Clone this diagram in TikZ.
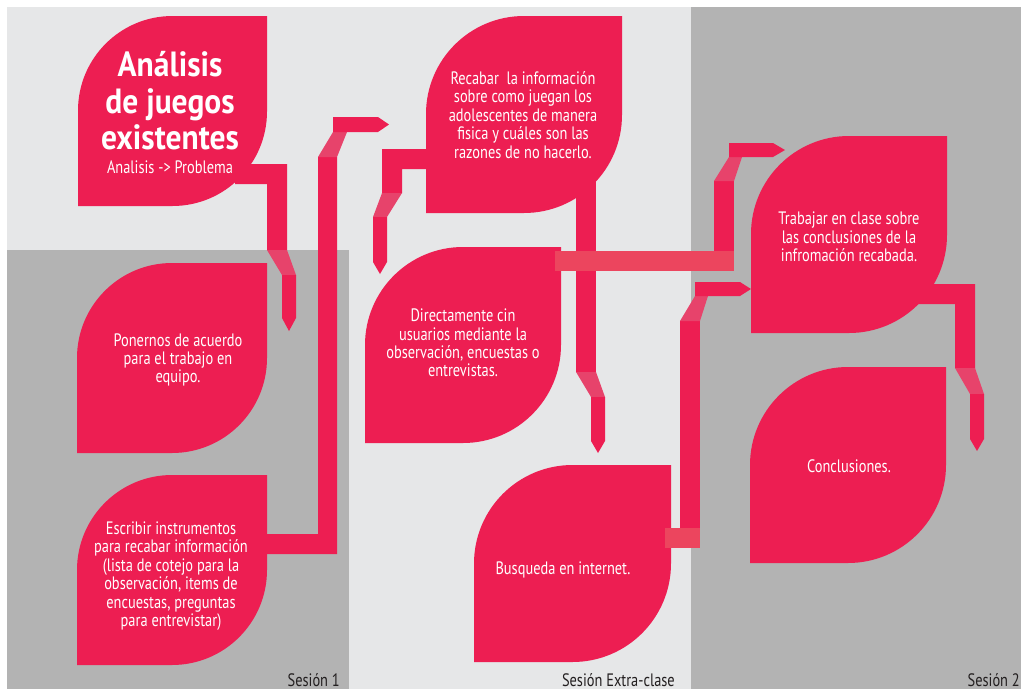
\documentclass[tikz,border=0pt]{standalone}
\usepackage{fontspec}
\setmainfont{PT Sans}
\newfontfamily\leaffont[FakeStretch=0.8]{PT Sans}
\newfontfamily\headfont[FakeStretch=0.9]{PT Sans}
\definecolor{paperlight}{RGB}{230,231,232}
\definecolor{paperdark}{RGB}{179,179,179}
\definecolor{leafpink}{RGB}{237,30,82}
\definecolor{bendpink}{RGB}{231,67,107}
\definecolor{barpink}{RGB}{236,69,94}
\definecolor{labelink}{RGB}{35,31,32}

% leaf: left x, top y, right x, bottom y; two opposite quarter-circle corners
\newcommand\leafshape[4]{%
  \pgfmathsetmacro\lr{(#3-#1)/2}%
  \pgfmathsetmacro\lk{\lr*0.4477}%
  \fill[leafpink] (#1,#4) -- (#1,#2+\lr)
    .. controls (#1,#2+\lk) and (#1+\lk,#2) .. (#1+\lr,#2)
    -- (#3,#2) -- (#3,#4-\lr)
    .. controls (#3,#4-\lk) and (#3-\lk,#4) .. (#3-\lr,#4) -- cycle;}

\begin{document}
\begin{tikzpicture}[x=1pt,y=-1pt,
  leaftext/.style={text=white, align=center, inner sep=0pt,
    font={\leaffont\fontsize{18}{18.4}\selectfont}},
  titletext/.style={text=white, align=center, inner sep=0pt,
    font={\headfont\bfseries\fontsize{35}{36.5}\selectfont}},
  sessionlabel/.style={text=labelink, inner sep=0pt, anchor=base east,
    font={\leaffont\fontsize{18}{18}\selectfont}},
  bendpart/.style={fill=bendpink},
  barpart/.style={fill=barpink},
  stempart/.style={fill=leafpink}]

\useasboundingbox (0,0) rectangle (1021,689);
\fill[white] (0,0) rectangle (1021,689);

% session panels
\fill[paperlight] (7,7) rectangle (691,689);
\fill[paperdark] (7,250) rectangle (349,689);
\fill[paperdark] (691,7) rectangle (1021,689);

% leaves
\leafshape{78}{16}{267}{206}
\leafshape{77}{263}{267}{453}
\leafshape{77}{475}{267}{665}
\leafshape{426}{16}{622}{213}
\leafshape{365}{247}{561}{443}
\leafshape{474}{465}{671}{662}
\leafshape{751}{136}{947}{333}
\leafshape{750}{367}{946}{563}

% Analisis -> Ponernos
\fill[stempart] (235,164) -- (287,164) -- (287,250) -- (267,250) -- (267,184) -- (235,184) -- cycle;
\fill[bendpart] (267,250) -- (287,250) -- (296,275) -- (282,275) -- cycle;
\fill[stempart] (282,275) -- (296,275) -- (296,318) -- (289,331) -- (282,318) -- cycle;

% Escribir -> Recabar
\fill[stempart] (255,534) -- (318,534) -- (318,157) -- (337,157) -- (337,554) -- (255,554) -- cycle;
\fill[bendpart] (318,157) -- (337,157) -- (347,132) -- (333,132) -- cycle;
\fill[stempart] (333,132) -- (333,117) -- (378,117) -- (389,124.5) -- (378,132) -- cycle;

% Recabar -> Directamente
\fill[stempart] (432,149) -- (382,149) -- (382,193) -- (402,193) -- (402,169) -- (432,169) -- cycle;
\fill[bendpart] (382,193) -- (402,193) -- (387,217) -- (373,217) -- cycle;
\fill[stempart] (373,217) -- (387,217) -- (387,262) -- (380,274) -- (373,262) -- cycle;

% Recabar -> Busqueda
\fill[stempart] (576,170) -- (596,170) -- (596,372) -- (576,372) -- cycle;
\fill[bendpart] (576,372) -- (596,372) -- (605,397) -- (591,397) -- cycle;
\fill[stempart] (591,397) -- (605,397) -- (605,441) -- (598,453) -- (591,441) -- cycle;

% Directamente -> Trabajar
\fill[stempart] (714,181) -- (734,181) -- (734,252) -- (714,252) -- cycle;
\fill[barpart] (555,251) -- (734,251) -- (734,271) -- (555,271) -- cycle;
\fill[bendpart] (714,181) -- (734,181) -- (742,157) -- (729,157) -- cycle;
\fill[stempart] (729,157) -- (729,143) -- (773,143) -- (785,150) -- (773,157) -- cycle;

% Busqueda -> Trabajar
\fill[stempart] (680,321) -- (700,321) -- (700,529) -- (680,529) -- cycle;
\fill[barpart] (665,528) -- (700,528) -- (700,548) -- (665,548) -- cycle;
\fill[bendpart] (680,321) -- (700,321) -- (708,296) -- (695,296) -- cycle;
\fill[stempart] (695,296) -- (695,282) -- (740,282) -- (751,289) -- (740,296) -- cycle;

% Trabajar -> Conclusiones
\fill[stempart] (910,284) -- (975,284) -- (975,368) -- (955,368) -- (955,304) -- (910,304) -- cycle;
\fill[bendpart] (955,368) -- (975,368) -- (984,394) -- (970,394) -- cycle;
\fill[stempart] (970,394) -- (984,394) -- (984,439) -- (977,451) -- (970,439) -- cycle;

% texts
\node[titletext] (title) at (170,101) {Análisis\\de juegos\\existentes};
\node[leaftext] (subtitle) at (170,167.5) {Analisis -> Problema};
\node[leaftext] (acuerdo) at (178,360) {Ponernos de acuerdo\\para el trabajo en\\equipo.};
\node[leaftext] (escribir) at (171,576) {Escribir instrumentos\\para recabar información\\(lista de cotejo para la\\observación, items de\\encuestas, preguntas\\para entrevistar)};
\node[leaftext] (recabar) at (523,115) {Recabar\ \ la información\\sobre como juegan los\\adolescentes de manera\\fisica y cuáles son las\\razones de no hacerlo.};
\node[leaftext] (directo) at (463,343) {Directamente cin\\usuarios mediante la\\observación, encuestas o\\entrevistas.};
\node[leaftext] (busqueda) at (563,570) {Busqueda en internet.};
\node[leaftext] (trabajar) at (849,237) {Trabajar en clase sobre\\las conclusiones de la\\infromación recabada.};
\node[leaftext] (conclusiones) at (849,466.5) {Conclusiones.};

\node[sessionlabel] (s1) at (340,686) {Sesión 1};
\node[sessionlabel] (sx) at (675,686) {Sesión Extra-clase};
\node[sessionlabel] (s2) at (1020,686) {Sesión 2};
\end{tikzpicture}
\end{document}
